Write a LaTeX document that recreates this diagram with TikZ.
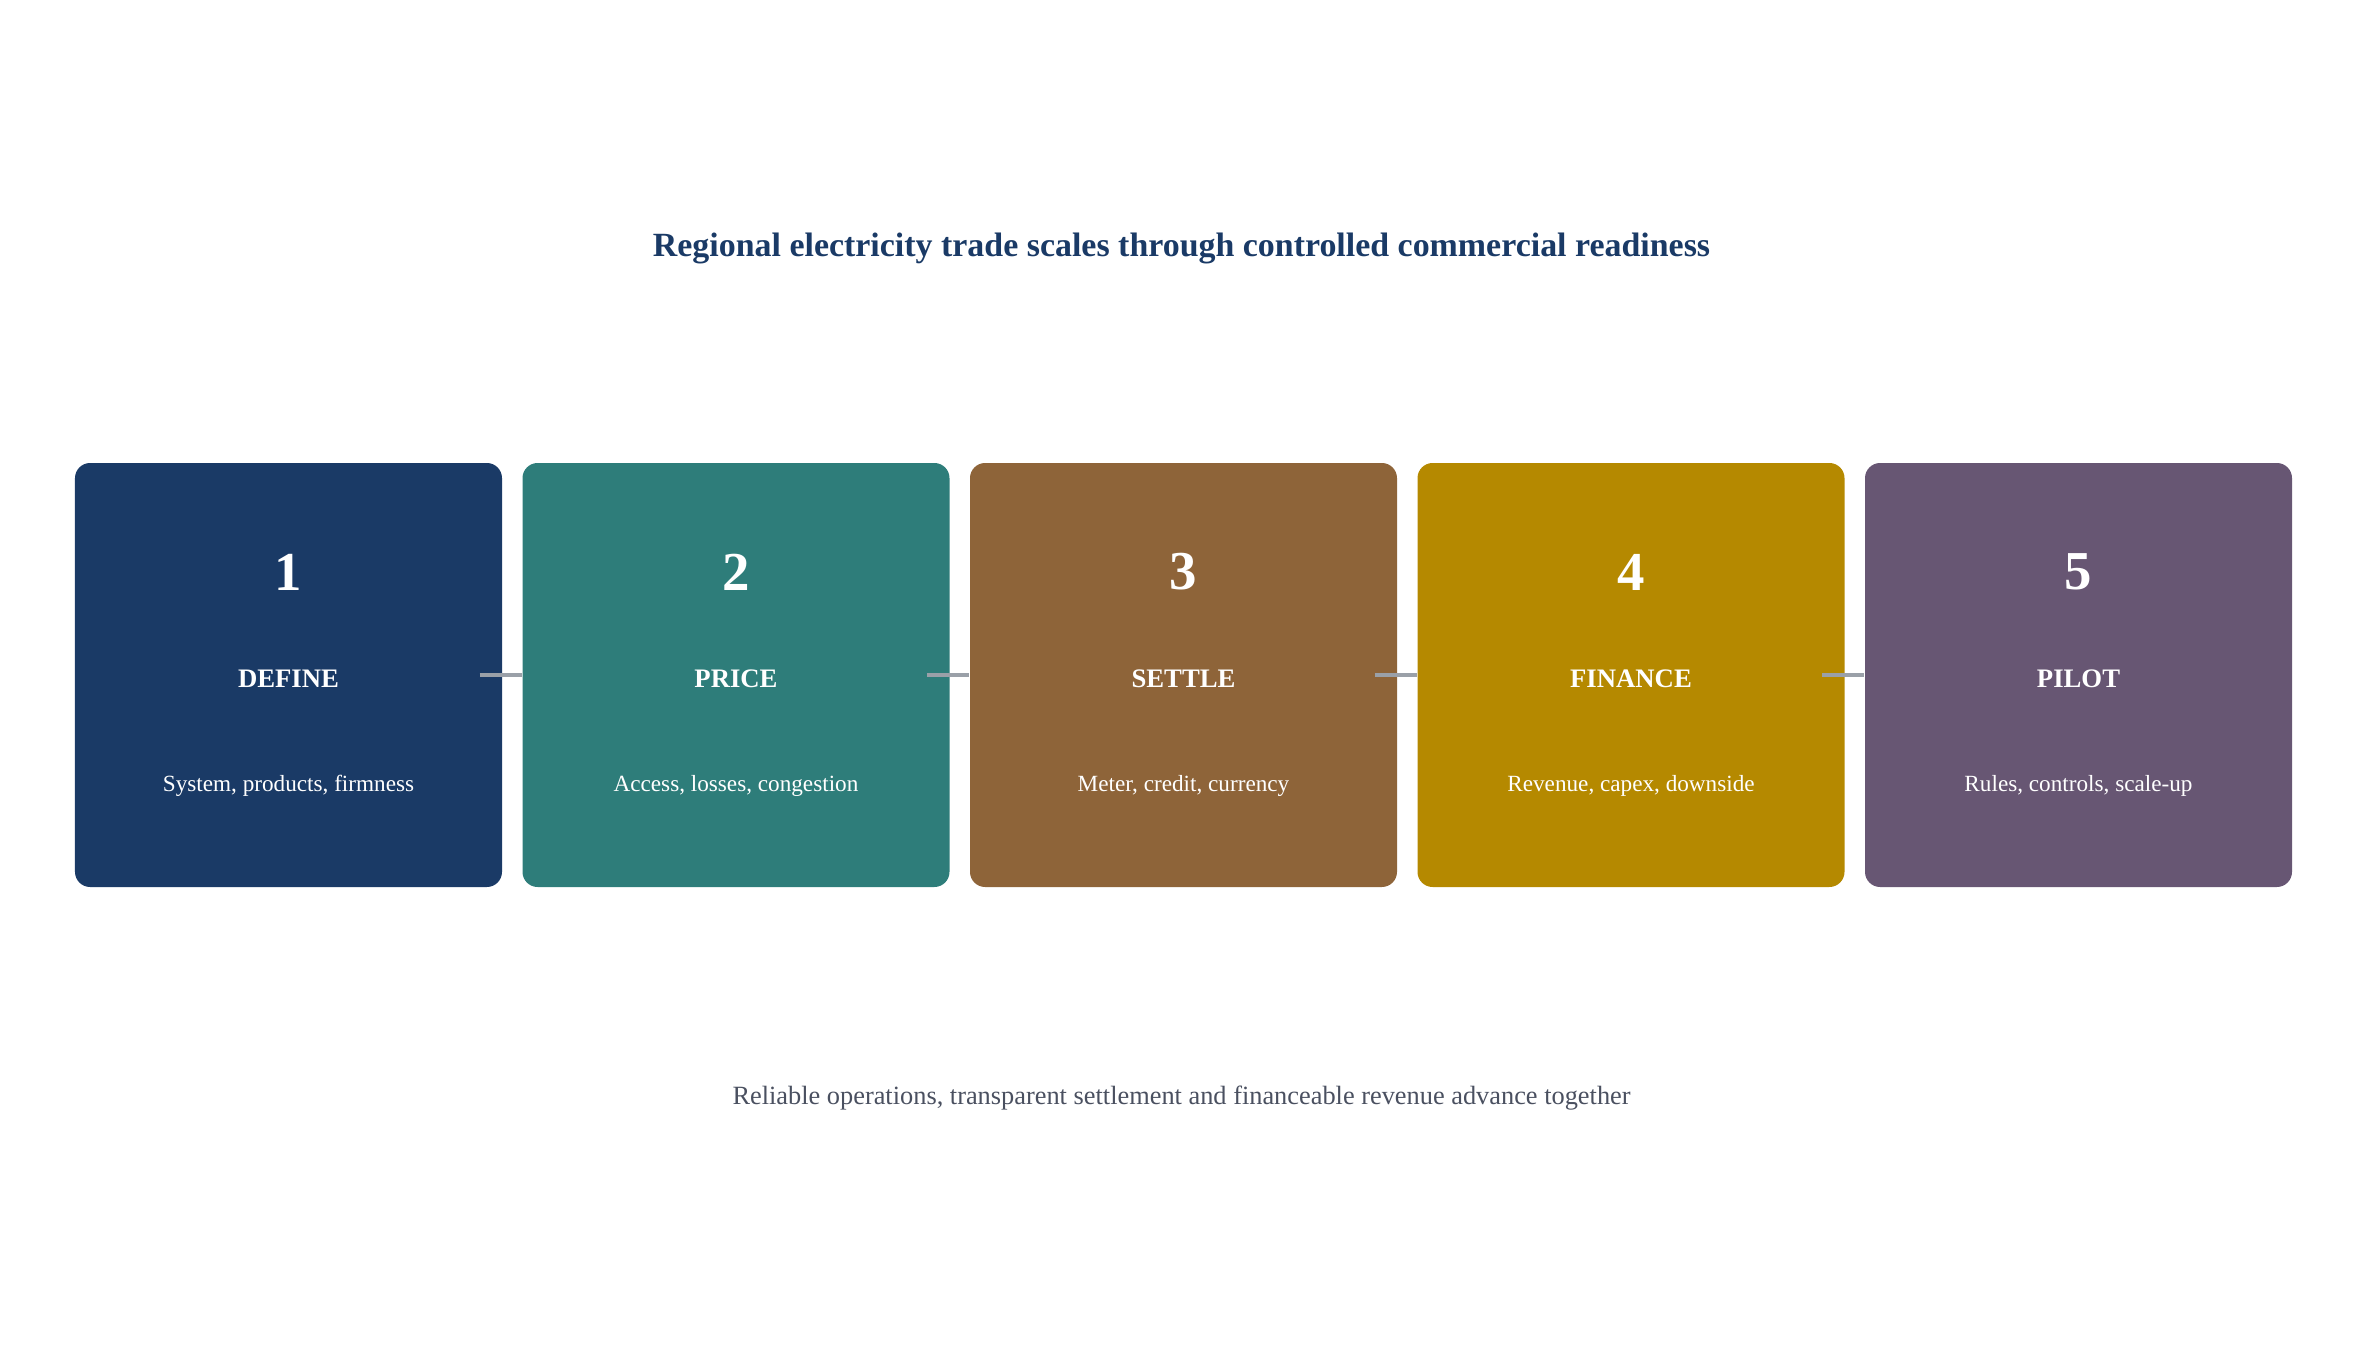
\documentclass[tikz,border=0pt]{standalone}
\usepackage{fontspec}
\setmainfont{Liberation Serif}
\usetikzlibrary{calc}

\definecolor{stepnavy}{HTML}{1A3A66}
\definecolor{stepteal}{HTML}{2E7D7A}
\definecolor{stepbrown}{HTML}{8E6439}
\definecolor{stepgold}{HTML}{B58900}
\definecolor{steppurple}{HTML}{675673}
\definecolor{linkgray}{HTML}{9AA0A8}
\definecolor{notegray}{HTML}{4A5060}

\tikzset{
    stagebox/.style={rounded corners=4.3pt,minimum width=4.27cm,minimum height=4.24cm,inner sep=0pt},
    stagenum/.style={text=white,font=\fontsize{15.6}{18}\selectfont\bfseries},
    stagename/.style={text=white,font=\fontsize{7.6}{9}\selectfont\bfseries},
    stagedesc/.style={text=white,font=\fontsize{6.6}{8}\selectfont},
    link/.style={linkgray,line width=1.15pt}
}

\begin{document}
\begin{tikzpicture}
            \useasboundingbox (0,0) rectangle (23.63,-13.51);

            \node (title) at (11.815,-2.48)[text=stepnavy,font=\fontsize{9.65}{12}\selectfont\bfseries]{Regional electricity trade scales through controlled commercial readiness};

            \foreach \i/\c/\name/\desc in {1/stepnavy/DEFINE/{System, products, firmness},
                                           2/stepteal/PRICE/{Access, losses, congestion},
                                           3/stepbrown/SETTLE/{Meter, credit, currency},
                                           4/stepgold/FINANCE/{Revenue, capex, downside},
                                           5/steppurple/PILOT/{Rules, controls, scale-up}}{
                \node[stagebox,fill=\c] (b\i) at ({2.885+4.475*(\i-1)},-6.75){};
                \node[stagenum] (n\i) at ($(b\i.center)+(0,1.03)$){\i};
                \node[stagename] (t\i) at ($(b\i.center)+(0,-0.04)$){\name};
                \node[stagedesc] (d\i) at ($(b\i.center)+(0,-1.11)$){\desc};
            }

            \foreach \i [evaluate=\i as \j using int(\i+1)] in {1,...,4}{
                \draw[link] ($(b\i.east)+(-0.23,0)$)--(b\j.west);
            }

            \node (note) at (11.815,-10.98)[text=notegray,font=\fontsize{7.5}{9}\selectfont]{Reliable operations, transparent settlement and financeable revenue advance together};
        \end{tikzpicture}
\end{document}
